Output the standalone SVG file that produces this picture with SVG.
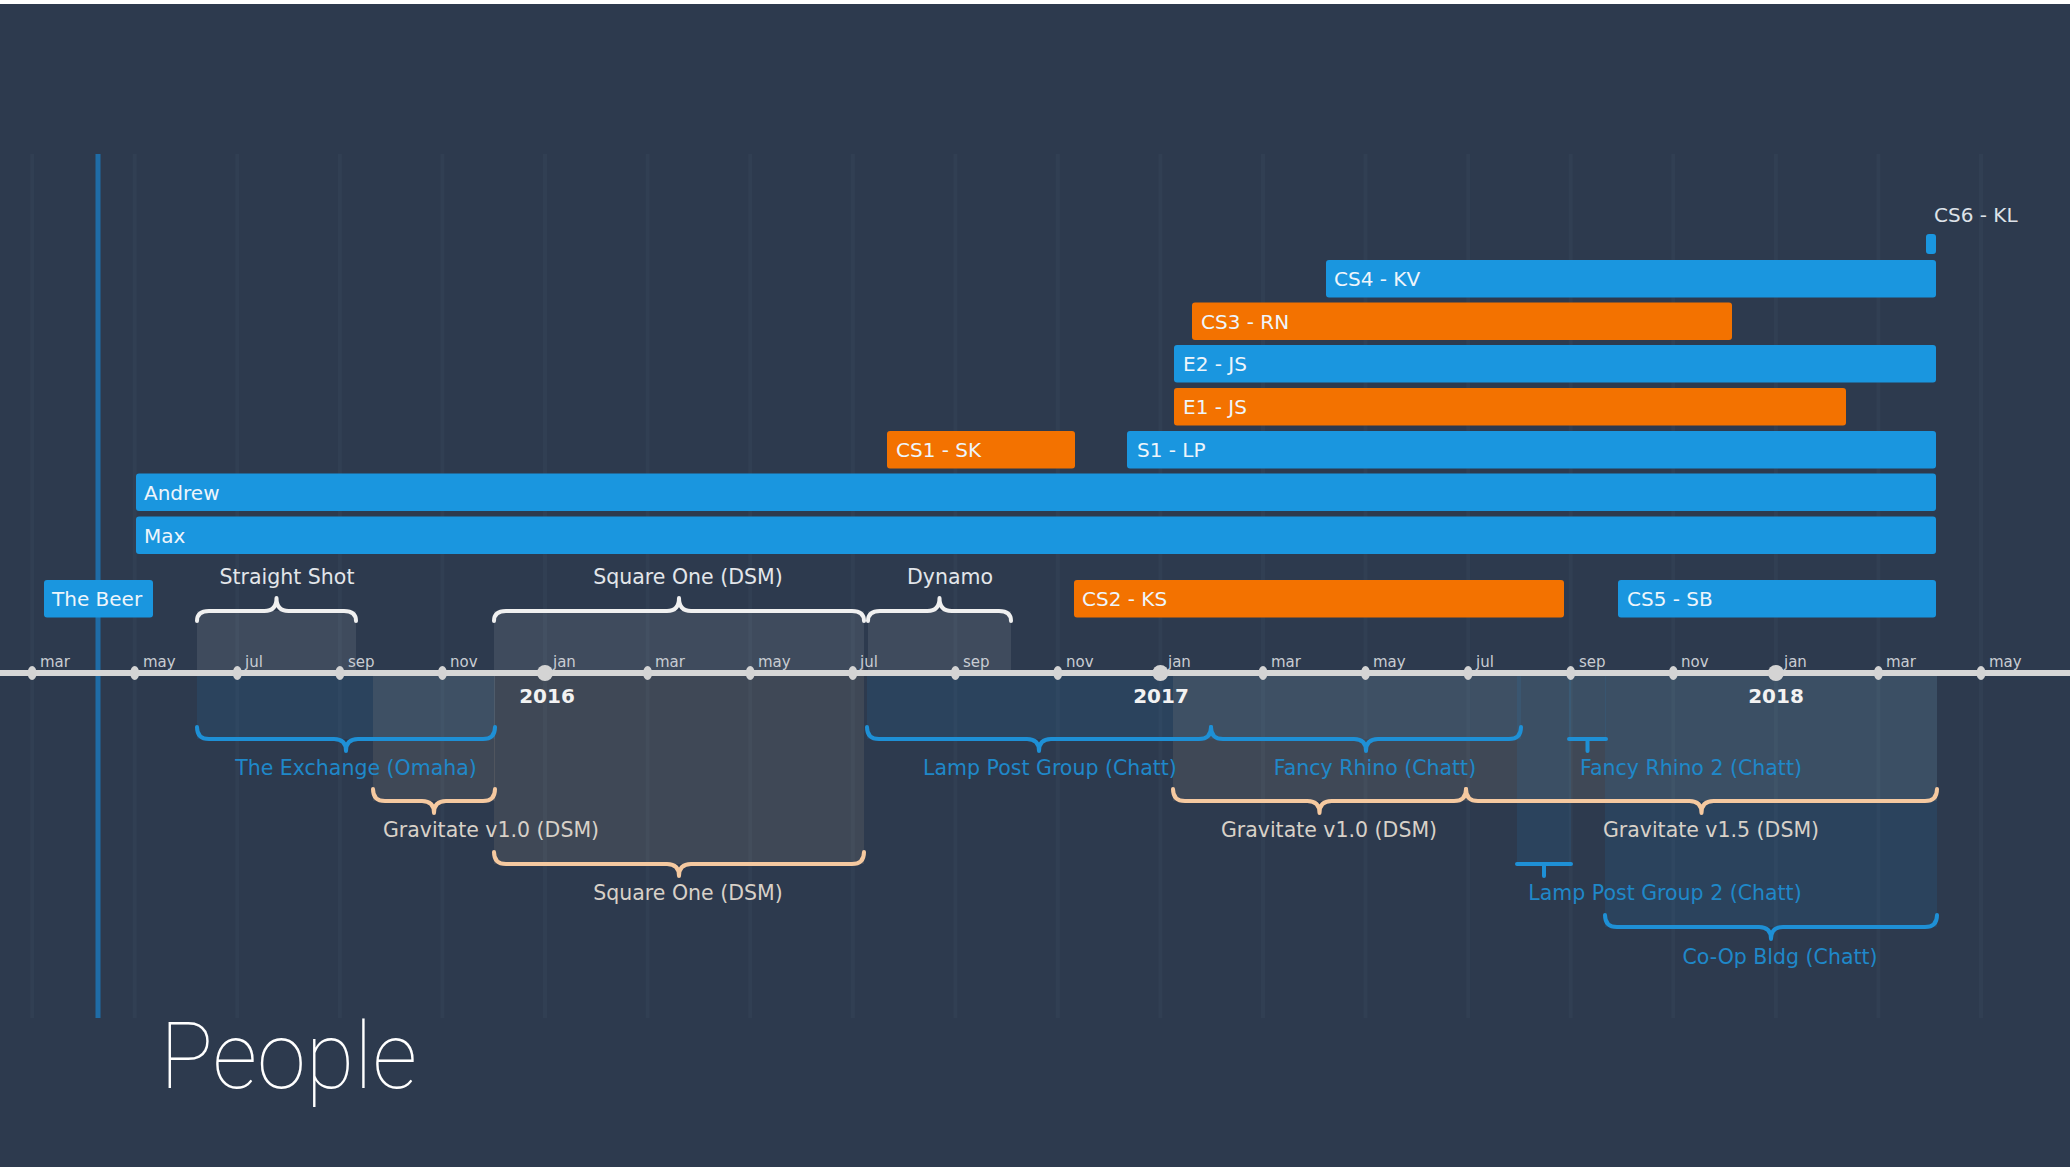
<svg xmlns="http://www.w3.org/2000/svg" width="2070" height="1167" viewBox="0 0 2070 1167">
<style>
.bg{fill:#2d3a4e}
.grid{stroke:#313f53;stroke-width:4}
.bx-w{fill:#ffffff;fill-opacity:.09}
.bx-o{fill:#ffd9b5;fill-opacity:.09}
.bx-b{fill:#1e96e6;fill-opacity:.1}
.br{fill:none;stroke-width:4;stroke-linecap:round;stroke-linejoin:round}
.br-w{stroke:#f0f0f0}
.br-o{stroke:#f5c9a0}
.br-b{stroke:#1e90d6}
.lab{font-family:"DejaVu Sans","Liberation Sans",sans-serif;font-size:20.5px;text-anchor:middle}
.lab-w{fill:#e3e6ea}
.lab-o{fill:#d8d1c8}
.lab-b{fill:#1f88c9}
.bar-b{fill:#1a96df}
.bar-o{fill:#f37200}
.blab{font-family:"DejaVu Sans","Liberation Sans",sans-serif;font-size:20px;fill:#eef5fb}
.tick{fill:#d4d4d4}
.mon{font-family:"DejaVu Sans","Liberation Sans",sans-serif;font-size:15px;fill:#c9cdd3}
.year{font-family:"DejaVu Sans","Liberation Sans",sans-serif;font-size:20px;font-weight:bold;fill:#f2f2f2;text-anchor:middle}
</style>
<rect class="bg" x="0" y="0" width="2070" height="1167"/>
<rect x="0" y="0" width="2070" height="4" fill="#ffffff"/>

<g id="grid">
<line class="grid" x1="32.1" y1="154" x2="32.1" y2="1018"/>
<line class="grid" x1="134.7" y1="154" x2="134.7" y2="1018"/>
<line class="grid" x1="237.3" y1="154" x2="237.3" y2="1018"/>
<line class="grid" x1="339.9" y1="154" x2="339.9" y2="1018"/>
<line class="grid" x1="442.4" y1="154" x2="442.4" y2="1018"/>
<line class="grid" x1="545" y1="154" x2="545" y2="1018"/>
<line class="grid" x1="647.6" y1="154" x2="647.6" y2="1018"/>
<line class="grid" x1="750.2" y1="154" x2="750.2" y2="1018"/>
<line class="grid" x1="852.8" y1="154" x2="852.8" y2="1018"/>
<line class="grid" x1="955.4" y1="154" x2="955.4" y2="1018"/>
<line class="grid" x1="1057.8" y1="154" x2="1057.8" y2="1018"/>
<line class="grid" x1="1160.4" y1="154" x2="1160.4" y2="1018"/>
<line class="grid" x1="1263" y1="154" x2="1263" y2="1018"/>
<line class="grid" x1="1365.5" y1="154" x2="1365.5" y2="1018"/>
<line class="grid" x1="1468.1" y1="154" x2="1468.1" y2="1018"/>
<line class="grid" x1="1570.7" y1="154" x2="1570.7" y2="1018"/>
<line class="grid" x1="1673.3" y1="154" x2="1673.3" y2="1018"/>
<line class="grid" x1="1775.9" y1="154" x2="1775.9" y2="1018"/>
<line class="grid" x1="1878.4" y1="154" x2="1878.4" y2="1018"/>
<line class="grid" x1="1981" y1="154" x2="1981" y2="1018"/>
</g>

<g id="backgrounds">
<rect class="bx-w" x="197" y="611" width="159" height="62"/>
<rect class="bx-w" x="494" y="611" width="370" height="62"/>
<rect class="bx-w" x="868" y="611" width="143" height="62"/>
<rect class="bx-b" x="197" y="673" width="298" height="66"/>
<rect class="bx-o" x="373" y="673" width="122" height="128"/>
<rect class="bx-o" x="494" y="673" width="370" height="191"/>
<rect class="bx-b" x="867" y="673" width="344" height="66"/>
<rect class="bx-b" x="1211" y="673" width="310" height="66"/>
<rect class="bx-o" x="1173" y="673" width="293" height="128"/>
<rect class="bx-o" x="1466" y="673" width="471" height="128"/>
<rect class="bx-b" x="1517" y="673" width="54" height="191"/>
<rect class="bx-b" x="1569" y="673" width="37" height="66"/>
<rect class="bx-b" x="1605" y="673" width="332" height="254"/>
</g>

<rect id="now-line" x="95.5" y="154" width="5" height="864" fill="#1f6ca6"/>

<g id="axis">
<line x1="0" y1="673" x2="2070" y2="673" stroke="#d6d6d6" stroke-width="6"/>
<ellipse class="tick" cx="32.1" cy="673" rx="4.5" ry="7"/>
<ellipse class="tick" cx="134.7" cy="673" rx="4.5" ry="7"/>
<ellipse class="tick" cx="237.3" cy="673" rx="4.5" ry="7"/>
<ellipse class="tick" cx="339.9" cy="673" rx="4.5" ry="7"/>
<ellipse class="tick" cx="442.4" cy="673" rx="4.5" ry="7"/>
<circle class="tick" cx="545" cy="673" r="8"/>
<ellipse class="tick" cx="647.6" cy="673" rx="4.5" ry="7"/>
<ellipse class="tick" cx="750.2" cy="673" rx="4.5" ry="7"/>
<ellipse class="tick" cx="852.8" cy="673" rx="4.5" ry="7"/>
<ellipse class="tick" cx="955.4" cy="673" rx="4.5" ry="7"/>
<ellipse class="tick" cx="1057.8" cy="673" rx="4.5" ry="7"/>
<circle class="tick" cx="1160.4" cy="673" r="8"/>
<ellipse class="tick" cx="1263" cy="673" rx="4.5" ry="7"/>
<ellipse class="tick" cx="1365.5" cy="673" rx="4.5" ry="7"/>
<ellipse class="tick" cx="1468.1" cy="673" rx="4.5" ry="7"/>
<ellipse class="tick" cx="1570.7" cy="673" rx="4.5" ry="7"/>
<ellipse class="tick" cx="1673.3" cy="673" rx="4.5" ry="7"/>
<circle class="tick" cx="1775.9" cy="673" r="8"/>
<ellipse class="tick" cx="1878.4" cy="673" rx="4.5" ry="7"/>
<ellipse class="tick" cx="1981" cy="673" rx="4.5" ry="7"/>
<text class="mon" x="40" y="667">mar</text>
<text class="mon" x="143" y="667">may</text>
<text class="mon" x="245" y="667">jul</text>
<text class="mon" x="348" y="667">sep</text>
<text class="mon" x="450" y="667">nov</text>
<text class="mon" x="553" y="667">jan</text>
<text class="mon" x="655" y="667">mar</text>
<text class="mon" x="758" y="667">may</text>
<text class="mon" x="860" y="667">jul</text>
<text class="mon" x="963" y="667">sep</text>
<text class="mon" x="1066" y="667">nov</text>
<text class="mon" x="1168" y="667">jan</text>
<text class="mon" x="1271" y="667">mar</text>
<text class="mon" x="1373" y="667">may</text>
<text class="mon" x="1476" y="667">jul</text>
<text class="mon" x="1579" y="667">sep</text>
<text class="mon" x="1681" y="667">nov</text>
<text class="mon" x="1784" y="667">jan</text>
<text class="mon" x="1886" y="667">mar</text>
<text class="mon" x="1989" y="667">may</text>
<text class="year" x="547" y="703">2016</text>
<text class="year" x="1161" y="703">2017</text>
<text class="year" x="1776" y="703">2018</text>
</g>

<g id="straight-shot">
<path class="br br-w" d="M197,621 Q197,611 209,611 H264.5 Q276.5,611 276.5,598 Q276.5,611 288.5,611 H344 Q356,611 356,621"/>
<text class="lab lab-w" x="287" y="584">Straight Shot</text>
</g>
<g id="square-one-top">
<path class="br br-w" d="M494,621 Q494,611 506,611 H667 Q679,611 679,598 Q679,611 691,611 H852 Q864,611 864,621"/>
<text class="lab lab-w" x="688" y="584">Square One (DSM)</text>
</g>
<g id="dynamo">
<path class="br br-w" d="M868,621 Q868,611 880,611 H927.5 Q939.5,611 939.5,598 Q939.5,611 951.5,611 H999 Q1011,611 1011,621"/>
<text class="lab lab-w" x="950" y="584">Dynamo</text>
</g>
<g id="the-exchange">
<path class="br br-b" d="M197,727 Q197,739 209,739 H334 Q346,739 346,751 Q346,739 358,739 H483 Q495,739 495,727"/>
<text class="lab lab-b" x="356" y="775">The Exchange (Omaha)</text>
</g>
<g id="lamp-post-group">
<path class="br br-b" d="M867,727 Q867,739 879,739 H1027 Q1039,739 1039,751 Q1039,739 1051,739 H1199 Q1211,739 1211,727"/>
<text class="lab lab-b" x="1050" y="775">Lamp Post Group (Chatt)</text>
</g>
<g id="fancy-rhino">
<path class="br br-b" d="M1211,727 Q1211,739 1223,739 H1354 Q1366,739 1366,751 Q1366,739 1378,739 H1509 Q1521,739 1521,727"/>
<text class="lab lab-b" x="1375" y="775">Fancy Rhino (Chatt)</text>
</g>
<g id="fancy-rhino-2">
<path class="br br-b" d="M1569,739 H1606 M1587.5,739 V751"/>
<text class="lab lab-b" x="1691" y="775">Fancy Rhino 2 (Chatt)</text>
</g>
<g id="gravitate-v10-a">
<path class="br br-o" d="M373,789 Q373,801 385,801 H422 Q434,801 434,813 Q434,801 446,801 H483 Q495,801 495,789"/>
<text class="lab lab-o" x="491" y="837">Gravitate v1.0 (DSM)</text>
</g>
<g id="gravitate-v10-b">
<path class="br br-o" d="M1173,789 Q1173,801 1185,801 H1307.5 Q1319.5,801 1319.5,813 Q1319.5,801 1331.5,801 H1454 Q1466,801 1466,789"/>
<text class="lab lab-o" x="1329" y="837">Gravitate v1.0 (DSM)</text>
</g>
<g id="gravitate-v15">
<path class="br br-o" d="M1466,789 Q1466,801 1478,801 H1689.5 Q1701.5,801 1701.5,813 Q1701.5,801 1713.5,801 H1925 Q1937,801 1937,789"/>
<text class="lab lab-o" x="1711" y="837">Gravitate v1.5 (DSM)</text>
</g>
<g id="square-one-bottom">
<path class="br br-o" d="M494,852 Q494,864 506,864 H667 Q679,864 679,876 Q679,864 691,864 H852 Q864,864 864,852"/>
<text class="lab lab-o" x="688" y="900">Square One (DSM)</text>
</g>
<g id="lamp-post-group-2">
<path class="br br-b" d="M1517,864 H1571 M1544,864 V876"/>
<text class="lab lab-b" x="1665" y="900">Lamp Post Group 2 (Chatt)</text>
</g>
<g id="co-op-bldg">
<path class="br br-b" d="M1605,915 Q1605,927 1617,927 H1759 Q1771,927 1771,939 Q1771,927 1783,927 H1925 Q1937,927 1937,915"/>
<text class="lab lab-b" x="1780" y="964">Co-Op Bldg (Chatt)</text>
</g>

<g id="cs6-kl">
<rect class="bar-b" x="1926" y="234" width="10" height="20" rx="3"/>
<text class="blab" x="1934" y="222" style="fill:#dde2e8">CS6 - KL</text>
</g>
<g id="cs4-kv">
<rect class="bar-b" x="1326" y="260" width="610" height="37.5" rx="3"/>
<text class="blab" x="1334" y="286">CS4 - KV</text>
</g>
<g id="cs3-rn">
<rect class="bar-o" x="1192" y="302.5" width="540" height="37.5" rx="3"/>
<text class="blab" x="1201" y="328.5">CS3 - RN</text>
</g>
<g id="e2-js">
<rect class="bar-b" x="1174" y="345" width="762" height="37.5" rx="3"/>
<text class="blab" x="1183" y="371">E2 - JS</text>
</g>
<g id="e1-js">
<rect class="bar-o" x="1174" y="388" width="672" height="37.5" rx="3"/>
<text class="blab" x="1183" y="414">E1 - JS</text>
</g>
<g id="cs1-sk">
<rect class="bar-o" x="887" y="431" width="188" height="37.5" rx="3"/>
<text class="blab" x="896" y="457">CS1 - SK</text>
</g>
<g id="s1-lp">
<rect class="bar-b" x="1127" y="431" width="809" height="37.5" rx="3"/>
<text class="blab" x="1137" y="457">S1 - LP</text>
</g>
<g id="andrew">
<rect class="bar-b" x="136" y="473.5" width="1800" height="37.5" rx="3"/>
<text class="blab" x="144" y="499.5">Andrew</text>
</g>
<g id="max">
<rect class="bar-b" x="136" y="516.5" width="1800" height="37.5" rx="3"/>
<text class="blab" x="144" y="542.5">Max</text>
</g>
<g id="the-beer">
<rect class="bar-b" x="44" y="580" width="109" height="37.5" rx="3"/>
<text class="blab" x="52" y="606">The Beer</text>
</g>
<g id="cs2-ks">
<rect class="bar-o" x="1074" y="580" width="490" height="37.5" rx="3"/>
<text class="blab" x="1082" y="606">CS2 - KS</text>
</g>
<g id="cs5-sb">
<rect class="bar-b" x="1618" y="580" width="318" height="37.5" rx="3"/>
<text class="blab" x="1627" y="606">CS5 - SB</text>
</g>

<text id="title" x="160" y="1088" font-family="Roboto, Lato, Inter, 'Liberation Sans', sans-serif" font-weight="100" font-size="93" fill="#ffffff" textLength="257" lengthAdjust="spacingAndGlyphs">People</text>
</svg>
